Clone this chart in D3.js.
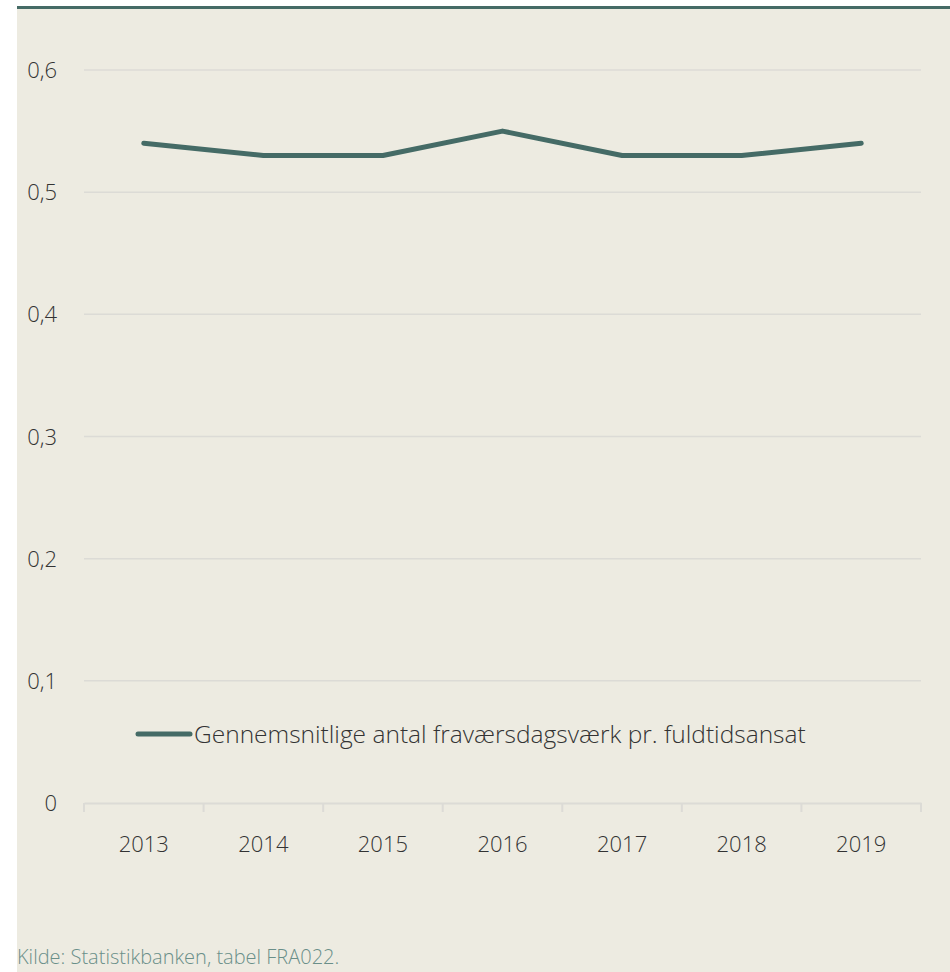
<!DOCTYPE html>
<html>
<head>
<meta charset="utf-8">
<script src="https://cdnjs.cloudflare.com/ajax/libs/d3/7.8.5/d3.min.js"></script>
<style>
  body { margin: 0; background: #ffffff; }
  text { font-family: "Open Sans", "Segoe UI", sans-serif; font-weight: 300; }
</style>
</head>
<body>
<script>
    // chart data
    var years = ["2013", "2014", "2015", "2016", "2017", "2018", "2019"];
    var values = [0.54, 0.53, 0.53, 0.55, 0.53, 0.53, 0.54];
    var yTicks = [0, 0.1, 0.2, 0.3, 0.4, 0.5, 0.6];
    var seriesName = "Gennemsnitlige antal fraværsdagsværk pr. fuldtidsansat";
    var sourceText = "Kilde: Statistikbanken, tabel FRA022.";

    var viz = { width: 950, height: 972 };
    var lineColor = "#456b66";

    var svg = d3.select("body").append("svg")
        .attr("width", viz.width)
        .attr("height", viz.height);

    // panel background and top bar
    svg.append("rect")
        .attr("x", 17).attr("y", 7)
        .attr("width", viz.width - 17).attr("height", viz.height - 7)
        .attr("fill", "#edebe1");
    svg.append("rect")
        .attr("x", 17).attr("y", 6)
        .attr("width", viz.width - 17).attr("height", 3)
        .attr("fill", lineColor);

    var x = d3.scaleBand().domain(years).range([84, 921]);
    var y = d3.scaleLinear().domain([0, 0.6]).range([803, 70]);

    // gridlines
    svg.append("g").selectAll("line")
        .data(yTicks.filter(function(d) { return d > 0; }))
        .enter().append("line")
        .attr("x1", 84).attr("x2", 921)
        .attr("y1", function(d) { return y(d); })
        .attr("y2", function(d) { return y(d); })
        .attr("stroke", "#dcdbd6")
        .attr("stroke-width", 1.5);

    // y labels
    svg.append("g").selectAll("text")
        .data(yTicks)
        .enter().append("text")
        .attr("x", 57)
        .attr("y", function(d) { return y(d) + 8; })
        .attr("text-anchor", "end")
        .attr("font-size", 22)
        .attr("fill", "#333")
        .text(function(d) { return d === 0 ? "0" : d3.format(".1f")(d).replace(".", ","); });

    // x axis
    var xAxis = d3.axisBottom(x).tickSize(0).tickPadding(0);
    var ax = svg.append("g").attr("transform", "translate(0," + y(0) + ")").call(xAxis);
    ax.select(".domain").attr("stroke", "#dcdbd6").attr("stroke-width", 2);
    ax.selectAll("text").remove();

    var bounds = years.map(function(d) { return x(d); }).concat([x.range()[1]]);
    svg.append("g").selectAll("line")
        .data(bounds)
        .enter().append("line")
        .attr("x1", function(d) { return d; }).attr("x2", function(d) { return d; })
        .attr("y1", y(0)).attr("y2", y(0) + 9)
        .attr("stroke", "#dcdbd6")
        .attr("stroke-width", 2);

    svg.append("g").selectAll("text")
        .data(years)
        .enter().append("text")
        .attr("x", function(d) { return x(d) + x.bandwidth() / 2; })
        .attr("y", 852)
        .attr("text-anchor", "middle")
        .attr("font-size", 22)
        .attr("fill", "#333")
        .text(function(d) { return d; });

    // series line
    var line = d3.line()
        .x(function(d, i) { return x(years[i]) + x.bandwidth() / 2; })
        .y(function(d) { return y(d); });

    svg.append("path")
        .datum(values)
        .attr("d", line)
        .attr("fill", "none")
        .attr("stroke", lineColor)
        .attr("stroke-width", 5)
        .attr("stroke-linecap", "round")
        .attr("stroke-linejoin", "round");

    // legend
    svg.append("line")
        .attr("x1", 138).attr("x2", 190)
        .attr("y1", 734).attr("y2", 734)
        .attr("stroke", lineColor)
        .attr("stroke-width", 5)
        .attr("stroke-linecap", "round");
    svg.append("text")
        .attr("x", 194).attr("y", 743)
        .attr("font-size", 24.5)
        .attr("fill", "#333")
        .text(seriesName);

    // source
    svg.append("text")
        .attr("x", 17).attr("y", 964)
        .attr("font-size", 20)
        .attr("fill", "#6a8f89")
        .text(sourceText);
</script>
</body>
</html>
